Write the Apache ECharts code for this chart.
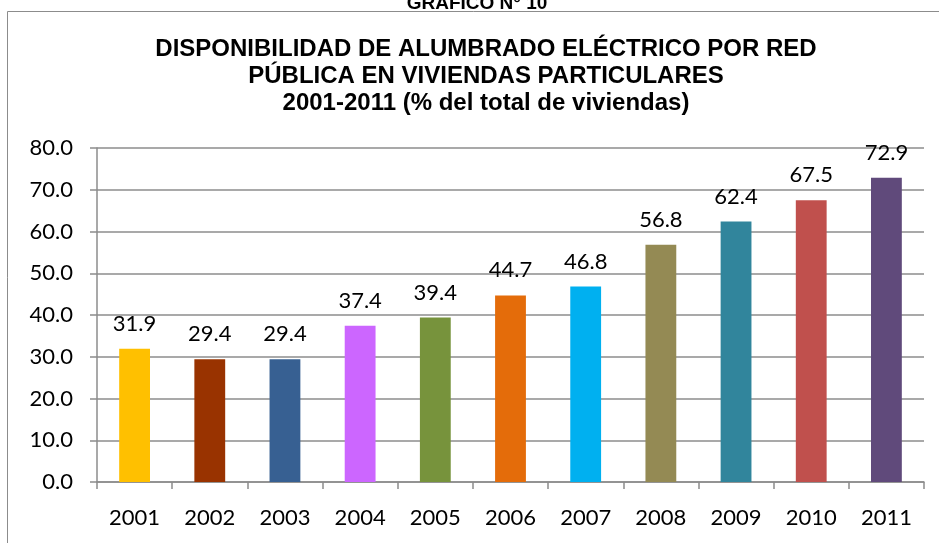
<!DOCTYPE html>
<html>
<head>
<meta charset="utf-8">
<script src="https://cdn.jsdelivr.net/npm/echarts@6/dist/echarts.min.js"></script>
<style>
  html, body { margin: 0; padding: 0; background: #fff; }
  #chart { width: 939px; height: 543px; }
</style>
</head>
<body>
<div id="chart"></div>
<script>
// datos del gráfico
const years = ['2001', '2002', '2003', '2004', '2005', '2006', '2007', '2008', '2009', '2010', '2011'];
const values = [31.9, 29.4, 29.4, 37.4, 39.4, 44.7, 46.8, 56.8, 62.4, 67.5, 72.9];
const barColors = ['#FFC000', '#993300', '#376092', '#CC66FF', '#77933C', '#E46C0A',
  '#00B0F0', '#948A54', '#31859C', '#C0504D', '#604A7B'];
const yTicks = [0, 10, 20, 30, 40, 50, 60, 70, 80];

const chart = echarts.init(document.getElementById('chart'));

const option = {
  animation: false,
  backgroundColor: '#fff',
  title: [{
    text: 'GRÁFICO N° 10',
    left: 472,
    textAlign: 'center',
    top: -11,
    textStyle: { fontFamily: 'Liberation Sans', fontWeight: 'bold', fontSize: 19, color: '#000' }
  }, {
    text: 'DISPONIBILIDAD DE ALUMBRADO ELÉCTRICO POR RED\nPÚBLICA EN VIVIENDAS PARTICULARES\n2001-2011 (% del total de viviendas)',
    left: 481,
    textAlign: 'center',
    top: 31,
    textStyle: {
      fontFamily: 'Liberation Sans', fontWeight: 'bold', fontSize: 24,
      lineHeight: 27, color: '#000'
    }
  }],
  graphic: [{
    type: 'polyline',
    shape: { points: [[7.5, 543], [7.5, 11.5], [939, 11.5]] },
    style: { stroke: '#8c8c8c', lineWidth: 1, fill: null }
  }],
  grid: { left: 97, right: 15, top: 148, bottom: 61 },
  xAxis: {
    type: 'category',
    data: years,
    axisLine: { lineStyle: { color: '#8c8c8c', width: 1.5 } },
    axisTick: { show: true, length: 7, lineStyle: { color: '#8c8c8c', width: 1.5 } },
    axisLabel: { color: '#000', fontFamily: 'Lato', fontSize: 22, margin: 25 }
  },
  yAxis: {
    type: 'value',
    min: yTicks[0],
    max: yTicks[yTicks.length - 1],
    interval: 10,
    axisLine: { show: true, lineStyle: { color: '#8c8c8c', width: 1.5 } },
    axisTick: { show: true, length: 7, lineStyle: { color: '#8c8c8c', width: 1.5 } },
    axisLabel: {
      color: '#000', fontFamily: 'Lato', fontSize: 22, margin: 24,
      formatter: v => v.toFixed(1)
    },
    splitLine: { lineStyle: { color: '#8c8c8c', width: 1.5 } }
  },
  series: [{
    type: 'bar',
    barWidth: '41%',
    data: values.map((v, i) => ({ value: v, itemStyle: { color: barColors[i] } })),
    label: {
      show: true,
      position: 'top',
      distance: 14,
      color: '#000',
      fontFamily: 'Lato',
      fontSize: 22,
      formatter: p => p.value.toFixed(1)
    }
  }]
};

chart.setOption(option);
</script>
</body>
</html>
